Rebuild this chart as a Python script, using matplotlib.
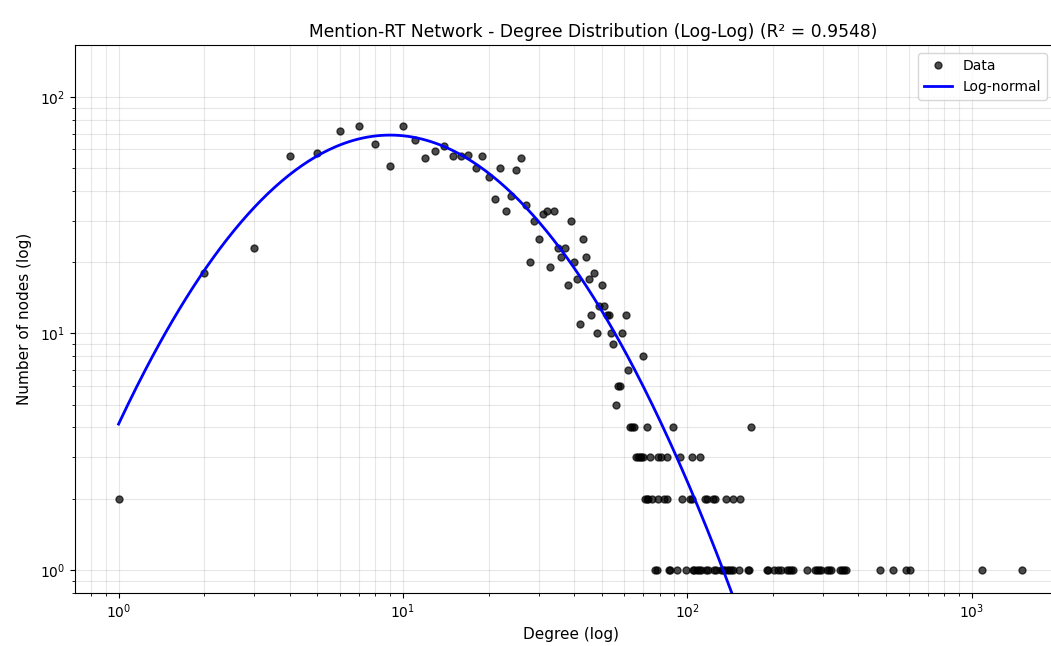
import numpy as np
import matplotlib
matplotlib.use('Agg')
from matplotlib import pyplot as plt

# degree distribution (degree, number of nodes)
deg_low = [1, 2, 3, 4, 5, 6, 7, 8, 9, 10, 11, 12, 13, 14, 15, 16, 17, 18, 19, 20,
           21, 22, 23, 24, 25, 26, 27, 28, 29, 30, 31, 32, 33, 34, 35, 36, 37, 38,
           39, 40, 41, 42, 43, 44, 45, 46, 47, 48, 49, 50, 51, 52, 53, 54, 55, 56,
           57, 58, 59, 61, 62, 70]
cnt_low = [2, 18, 23, 56, 58, 72, 75, 63, 51, 75, 66, 55, 59, 62, 56, 56, 57, 50, 56, 46,
           37, 50, 33, 38, 49, 55, 35, 20, 30, 25, 32, 33, 19, 33, 23, 21, 23, 16,
           30, 20, 17, 11, 25, 21, 17, 12, 18, 10, 13, 16, 13, 12, 12, 10, 9, 5,
           6, 6, 10, 12, 7, 8]

deg_4 = [63, 64, 65, 72, 89, 168]
deg_3 = [66, 67, 68, 69, 70, 74, 79, 81, 85, 94, 104, 111]
deg_2 = [71, 72, 73, 75, 79, 83, 85, 96, 102, 104, 115, 117, 123, 125, 137, 145, 153]
deg_1 = [77, 78, 86, 87, 92, 99, 105, 106, 108, 110, 112, 116, 118, 124, 126, 131, 133,
         135, 138, 140, 142, 145, 152, 163, 165, 190, 193, 201, 208, 214, 224, 227, 231,
         235, 263, 281, 285, 290, 295, 311, 316, 321, 345, 350, 356, 362, 476, 528, 589,
         608, 1083, 1498]

# log-normal fit parameters
mu = 3.057
sigma = 0.9266
amp = 2217
r2 = 0.9548

degree = np.array(deg_low + deg_4 + deg_3 + deg_2 + deg_1, dtype=float)
count = np.array(cnt_low + [4] * len(deg_4) + [3] * len(deg_3)
                 + [2] * len(deg_2) + [1] * len(deg_1), dtype=float)

xf = np.logspace(0, np.log10(degree.max()), 400)
yf = amp / (xf * sigma * np.sqrt(2 * np.pi)) * np.exp(-(np.log(xf) - mu) ** 2 / (2 * sigma ** 2))

fig = plt.figure(figsize=(10.51, 6.46), dpi=100)
ax = fig.add_axes([0.0714, 0.0825, 0.9436, 0.848])

ax.loglog(degree, count, 'o', color='black', alpha=0.7, markersize=5, label='Data')
ax.loglog(xf, yf, '-', color='blue', linewidth=2, label='Log-normal')

ax.set_xlim(0.703, 2160)
ax.set_ylim(0.80, 166)
ax.grid(True, which='both', alpha=0.3)
ax.set_xlabel('Degree (log)', fontsize=11)
ax.set_ylabel('Number of nodes (log)', fontsize=11, labelpad=6)
ax.set_title(f'Mention-RT Network - Degree Distribution (Log-Log) (R² = {r2:.4f})',
             fontsize=12.3, x=0.522)
ax.legend(loc='upper right', bbox_to_anchor=(0.987, 0.997))

fig.savefig('out.png', dpi=100)
